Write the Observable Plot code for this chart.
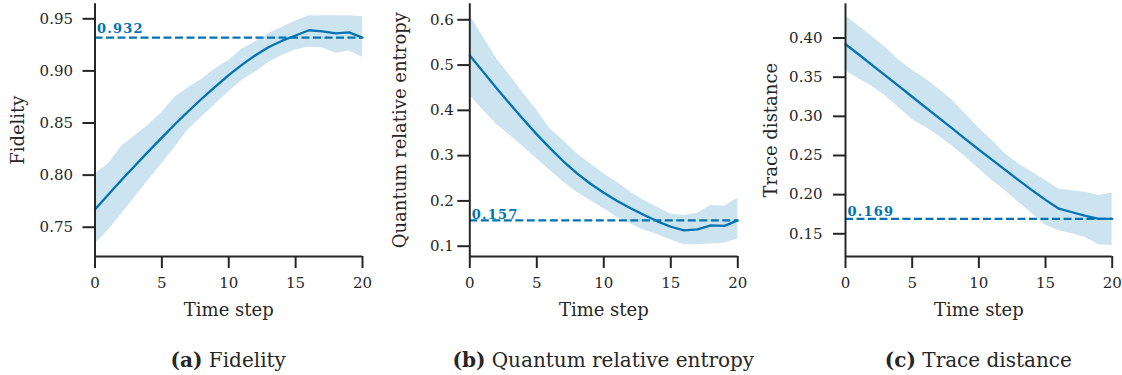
<!DOCTYPE html>
<html>
<head>
<meta charset="utf-8">
<script src="https://cdn.jsdelivr.net/npm/d3@7"></script>
<script src="https://cdn.jsdelivr.net/npm/@observablehq/plot@0.6"></script>
<style>
  html, body { margin: 0; padding: 0; background: #ffffff; }
  #figure { position: relative; width: 1122px; height: 375px; overflow: hidden; }
  .panel { position: absolute; top: 0; }
  .caption {
    position: absolute; top: 350px; transform: translateX(-50%);
    white-space: nowrap; font-family: "DejaVu Serif", serif; font-size: 20px;
    line-height: 20px; color: #262626;
  }
  g[font-weight="bold"] text { letter-spacing: 1.2px; }
</style>
</head>
<body>
<div id="figure"></div>
<script>
// Time steps shared by all three metrics
const steps = [0, 1, 2, 3, 4, 5, 6, 7, 8, 9, 10, 11, 12, 13, 14, 15, 16, 17, 18, 19, 20];
const xTicks = [0, 5, 10, 15, 20];

// Fidelity: mean with lower/upper band
const fidelityMean  = [0.767, 0.7815, 0.7955, 0.8093, 0.8228, 0.836, 0.849, 0.8615, 0.8735, 0.885, 0.896, 0.906, 0.915, 0.923, 0.929, 0.934, 0.939, 0.938, 0.936, 0.937, 0.932];
const fidelityUpper = [0.801, 0.811, 0.828, 0.838, 0.848, 0.860, 0.875, 0.884, 0.892, 0.902, 0.910, 0.921, 0.928, 0.936, 0.942, 0.948, 0.953, 0.953, 0.953, 0.953, 0.952];
const fidelityLower = [0.734, 0.747, 0.763, 0.779, 0.795, 0.811, 0.827, 0.844, 0.856, 0.868, 0.880, 0.891, 0.899, 0.908, 0.915, 0.920, 0.923, 0.922, 0.917, 0.919, 0.913];
const fidelityRef = 0.932;
const fidelityTicks = [0.75, 0.80, 0.85, 0.90, 0.95];

// Quantum relative entropy
const qreMean  = [0.521, 0.485, 0.449, 0.414, 0.380, 0.347, 0.316, 0.287, 0.261, 0.238, 0.218, 0.200, 0.184, 0.169, 0.155, 0.143, 0.135, 0.137, 0.146, 0.145, 0.157];
const qreUpper = [0.610, 0.562, 0.514, 0.477, 0.437, 0.400, 0.359, 0.333, 0.304, 0.282, 0.260, 0.241, 0.219, 0.201, 0.186, 0.171, 0.168, 0.173, 0.190, 0.188, 0.206];
const qreLower = [0.433, 0.400, 0.369, 0.345, 0.319, 0.293, 0.267, 0.241, 0.219, 0.201, 0.183, 0.164, 0.149, 0.135, 0.126, 0.114, 0.103, 0.103, 0.105, 0.107, 0.116];
const qreRef = 0.157;
const qreTicks = [0.1, 0.2, 0.3, 0.4, 0.5, 0.6];

// Trace distance
const traceMean  = [0.392, 0.379, 0.3655, 0.352, 0.3385, 0.325, 0.3115, 0.298, 0.2845, 0.271, 0.2575, 0.2443, 0.2312, 0.2182, 0.2055, 0.1933, 0.182, 0.1775, 0.173, 0.169, 0.169];
const traceUpper = [0.428, 0.415, 0.402, 0.388, 0.372, 0.359, 0.348, 0.335, 0.321, 0.303, 0.285, 0.269, 0.252, 0.239, 0.229, 0.218, 0.207, 0.205, 0.203, 0.199, 0.202];
const traceLower = [0.358, 0.348, 0.338, 0.326, 0.311, 0.296, 0.286, 0.275, 0.262, 0.248, 0.233, 0.218, 0.205, 0.190, 0.176, 0.161, 0.154, 0.150, 0.145, 0.136, 0.135];
const traceRef = 0.169;
const traceTicks = [0.15, 0.20, 0.25, 0.30, 0.35, 0.40];

const blue = "#0173b2";
const ink = "#262626";

function drawPanel(cfg) {
  const rows = steps.map((s, i) => ({step: s, mean: cfg.mean[i], lower: cfg.lower[i], upper: cfg.upper[i]}));
  const fmt = d3.format(cfg.format);
  return Plot.plot({
    width: 374,
    height: 330,
    marginTop: 3.3,
    marginBottom: 74,
    marginLeft: cfg.marginLeft,
    marginRight: cfg.marginRight,
    style: {fontFamily: "DejaVu Serif, serif", fontSize: "15px", color: ink, background: "transparent", overflow: "visible"},
    x: {domain: [0, 20]},
    y: {domain: cfg.yDomain},
    marks: [
      Plot.areaY(rows, {x: "step", y1: "lower", y2: "upper", fill: blue, fillOpacity: 0.2}),
      Plot.lineY(rows, {x: "step", y: "mean", stroke: blue, strokeWidth: 2.3}),
      Plot.ruleY([cfg.ref], {stroke: blue, strokeWidth: 2.2, strokeDasharray: "8,3.5"}),
      Plot.text([cfg.ref], {x: 0, y: d => d, text: d => d.toFixed(3), textAnchor: "start", lineAnchor: "bottom",
        dx: 2, dy: cfg.refDy, fill: blue, fontWeight: "bold", fontSize: 13}),
      Plot.ruleX([0], {stroke: ink, strokeWidth: 2}),
      Plot.ruleY([cfg.yDomain[0]], {stroke: ink, strokeWidth: 2}),
      Plot.axisX(xTicks, {tickSize: 12, tickPadding: 9, strokeWidth: 2, label: null, fontSize: 15}),
      Plot.axisY(cfg.ticks, {tickSize: 12, tickPadding: cfg.tickPadding, tickFormat: fmt, strokeWidth: 2, label: null, fontSize: 15}),
      Plot.text(["Time step"], {frameAnchor: "bottom", textAnchor: "middle", dy: 59, lineAnchor: "bottom", fontSize: 18, fill: ink}),
      Plot.text([cfg.label], {frameAnchor: "left", textAnchor: "middle", rotate: -90, dx: cfg.labelDx, lineAnchor: "bottom", fontSize: 18, fill: ink})
    ]
  });
}

const panels = [
  {left: 0, marginLeft: 94.5, marginRight: 12, mean: fidelityMean, upper: fidelityUpper, lower: fidelityLower,
   ref: fidelityRef, refDy: -5, yDomain: [0.7219, 0.9644], ticks: fidelityTicks, format: ".2f", tickPadding: 10,
   label: "Fidelity", labelDx: -71, tag: "(a)", title: "Fidelity"},
  {left: 374, marginLeft: 95.3, marginRight: 10.7, mean: qreMean, upper: qreUpper, lower: qreLower,
   ref: qreRef, refDy: -1, yDomain: [0.0773, 0.6353], ticks: qreTicks, format: ".1f", tickPadding: 4,
   label: "Quantum relative entropy", labelDx: -64, tag: "(b)", title: "Quantum relative entropy"},
  {left: 748, marginLeft: 97, marginRight: 10.3, mean: traceMean, upper: traceUpper, lower: traceLower,
   ref: traceRef, refDy: -3.3, yDomain: [0.121, 0.4437], ticks: traceTicks, format: ".2f", tickPadding: 11,
   label: "Trace distance", labelDx: -69, tag: "(c)", title: "Trace distance"}
];

const figure = document.getElementById("figure");
for (const p of panels) {
  const wrap = document.createElement("div");
  wrap.className = "panel";
  wrap.style.left = p.left + "px";
  wrap.appendChild(drawPanel(p));
  figure.appendChild(wrap);

  const cap = document.createElement("div");
  cap.className = "caption";
  const center = p.left + p.marginLeft + (374 - p.marginLeft - p.marginRight) / 2;
  cap.style.left = center + "px";
  const b = document.createElement("b");
  b.textContent = p.tag;
  cap.appendChild(b);
  cap.appendChild(document.createTextNode(" " + p.title));
  figure.appendChild(cap);
}
</script>
</body>
</html>
